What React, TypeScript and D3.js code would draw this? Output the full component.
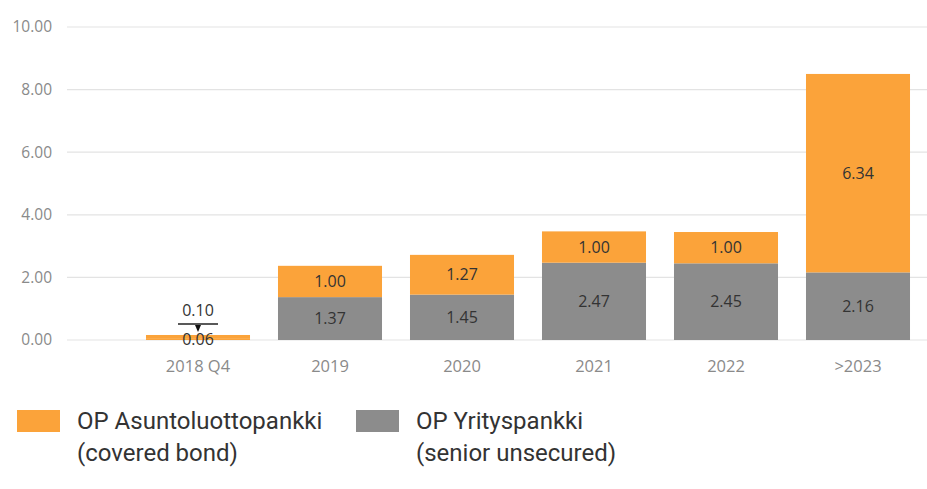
import React from "react";
import * as d3 from "d3";

const categories = ["2018 Q4", "2019", "2020", "2021", "2022", ">2023"];
const seniorValues = [0.06, 1.37, 1.45, 2.47, 2.45, 2.16];
const coveredValues = [0.1, 1.0, 1.27, 1.0, 1.0, 6.34];
const yTicks = [0, 2, 4, 6, 8, 10];
const seriesNames = ["OP Asuntoluottopankki", "OP Yrityspankki"];
const seriesSubNames = ["(covered bond)", "(senior unsecured)"];

const ORANGE = "#FBA33A";
const GRAY = "#8C8C8C";
const W = 927;
const H = 489;

export default function App() {
  const x = d3.scaleBand<string>().domain(categories).range([132, 924]).paddingInner(0.212).paddingOuter(0.106);
  const y = d3.scaleLinear().domain([0, 10]).range([340, 27]);
  const tickFont = "'Open Sans', 'Noto Sans', sans-serif";
  const legendFont = "Roboto, 'Noto Sans', sans-serif";

  return (
    <svg width={W} height={H} style={{ position: "absolute", left: 0, top: 0, background: "#fff" }}>
      {yTicks.map((t) => (
        <g key={t}>
          <line x1={67} x2={927} y1={y(t)} y2={y(t)} stroke="#e3e3e3" strokeWidth={1.2} />
          <text x={52} y={y(t)} dy="0.35em" textAnchor="end" fontFamily={tickFont} fontSize={15.5} fill="#8a8a8a">
            {t.toFixed(2)}
          </text>
        </g>
      ))}
      {categories.map((c, i) => {
        const x0 = x(c)!;
        const bw = x.bandwidth();
        const s = seniorValues[i];
        const cv = coveredValues[i];
        const cx = x0 + bw / 2;
        const small = s + cv < 0.5;
        return (
          <g key={c}>
            <rect x={x0} y={y(s)} width={bw} height={y(0) - y(s)} fill={small ? ORANGE : GRAY} />
            <rect x={x0} y={y(s + cv)} width={bw} height={y(s) - y(s + cv)} fill={ORANGE} />
            {small ? (
              <g>
                <text x={cx} y={310} dy="0.35em" textAnchor="middle" fontFamily={tickFont} fontSize={16} fill="#333">
                  {cv.toFixed(2)}
                </text>
                <line x1={cx - 20} x2={cx + 20} y1={324} y2={324} stroke="#222" strokeWidth={1.5} />
                <path d={`M${cx - 3},${325} L${cx + 3},${325} L${cx},${332} Z`} fill="#111" />
                <text x={cx} y={339} dy="0.35em" textAnchor="middle" fontFamily={tickFont} fontSize={16} fill="#333">
                  {s.toFixed(2)}
                </text>
              </g>
            ) : (
              <g>
                <text x={cx} y={(y(0) + y(s)) / 2} dy="0.35em" textAnchor="middle" fontFamily={tickFont} fontSize={16} fill="#333">
                  {s.toFixed(2)}
                </text>
                <text x={cx} y={(y(s) + y(s + cv)) / 2} dy="0.35em" textAnchor="middle" fontFamily={tickFont} fontSize={16} fill="#333">
                  {cv.toFixed(2)}
                </text>
              </g>
            )}
            <text x={cx} y={366} dy="0.35em" textAnchor="middle" fontFamily={tickFont} fontSize={16.5} fill="#8a8a8a">
              {c}
            </text>
          </g>
        );
      })}
      {seriesNames.map((n, i) => {
        const lx = i === 0 ? 17 : 356;
        return (
          <g key={n}>
            <rect x={lx} y={410} width={43} height={22} fill={i === 0 ? ORANGE : GRAY} />
            <text x={lx + 60} y={429} fontFamily={legendFont} fontSize={24} fill="#333">
              {n}
            </text>
            <text x={lx + 60} y={461} fontFamily={legendFont} fontSize={24} fill="#333">
              {seriesSubNames[i]}
            </text>
          </g>
        );
      })}
    </svg>
  );
}
